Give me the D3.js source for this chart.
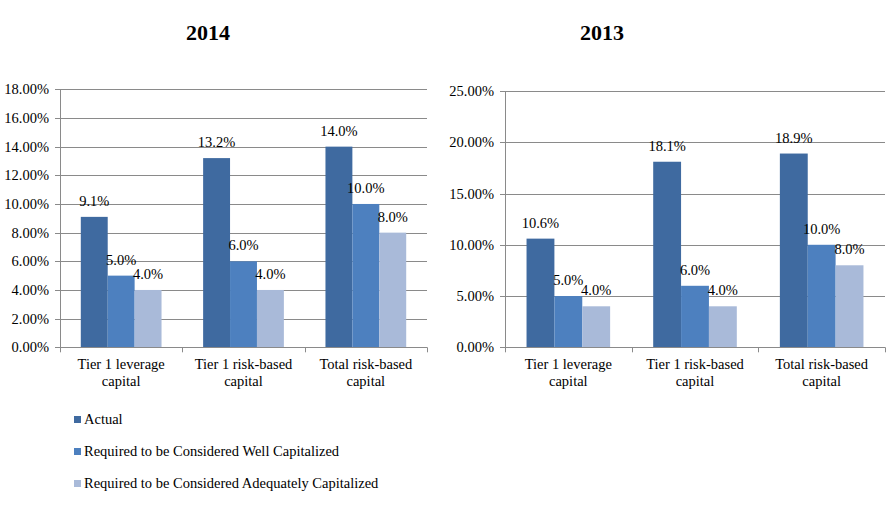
<!DOCTYPE html>
<html><head><meta charset="utf-8">
<script src="https://cdn.jsdelivr.net/npm/d3@7"></script>
<style>
html,body{margin:0;padding:0;background:#fff;}
svg text{font-family:'Liberation Serif','Times New Roman',Times,'DejaVu Serif',serif;}
</style></head>
<body>
<svg id="chart" width="886" height="521"></svg>
<script>
// ---- data ----
const categories = [["Tier 1 leverage","capital"],["Tier 1 risk-based","capital"],["Total risk-based","capital"]];
const seriesNames = ["Actual","Required to be Considered Well Capitalized","Required to be Considered Adequately Capitalized"];
const values2014 = [[9.1,5.0,4.0],[13.2,6.0,4.0],[14.0,10.0,8.0]];
const values2013 = [[10.6,5.0,4.0],[18.1,6.0,4.0],[18.9,10.0,8.0]];
const ticks2014 = [0,2,4,6,8,10,12,14,16,18];
const ticks2013 = [0,5,10,15,20,25];
const years = ["2014","2013"];
const colors = ["#3f6aa0","#4d80bf","#a9bad9"];

const svg = d3.select("#chart");
const gridColor = "#8a8a8a";
const fs = "14.5px";
const ff = "'Liberation Serif','Times New Roman',Times,serif";

function T(sel){ return sel.attr("font-family",ff).style("font-family",ff); }

function drawPanel(cfg){
  const g = svg.append("g");
  const y = d3.scaleLinear().domain([0, d3.max(cfg.ticks)]).range([cfg.bottom, cfg.top]);
  const x0 = d3.scaleBand().domain(d3.range(categories.length)).range([cfg.left, cfg.right]).padding(0);
  const bw = x0.bandwidth();
  const x1 = d3.scaleBand().domain(d3.range(seriesNames.length)).range([bw*0.17, bw*0.83]).padding(0);

  g.selectAll("line.grid").data(cfg.ticks.slice(1)).enter().append("line")
    .attr("x1", cfg.left).attr("x2", cfg.right)
    .attr("y1", d=>Math.round(y(d))+0.5).attr("y2", d=>Math.round(y(d))+0.5)
    .attr("stroke", gridColor).attr("stroke-width",1);
  g.selectAll("line.yt").data(cfg.ticks).enter().append("line")
    .attr("x1", cfg.left-5).attr("x2", cfg.left)
    .attr("y1", d=>Math.round(y(d))+0.5).attr("y2", d=>Math.round(y(d))+0.5)
    .attr("stroke", gridColor);
  T(g.selectAll("text.yl").data(cfg.ticks).enter().append("text")
    .attr("x", cfg.left-11).attr("y", d=>y(d)).attr("dy","0.35em")
    .attr("text-anchor","end").style("font-size",fs).attr("fill","#000")
    .text(d=>d.toFixed(2)+"%"));

  categories.forEach((c,ci)=>{
    const vals = cfg.values[ci];
    const gg = g.append("g").attr("transform",`translate(${x0(ci)},0)`);
    gg.selectAll("rect").data(vals).enter().append("rect")
      .attr("x",(d,i)=>x1(i)).attr("width",x1.bandwidth())
      .attr("y",d=>y(d)).attr("height",d=>y(0)-y(d))
      .attr("fill",(d,i)=>colors[i]);
    T(gg.selectAll("text").data(vals).enter().append("text")
      .attr("x",(d,i)=>x1(i)+x1.bandwidth()/2).attr("y",d=>y(d)-11)
      .attr("text-anchor","middle").style("font-size",fs).attr("fill","#000")
      .text(d=>d.toFixed(1)+"%"));
  });

  g.append("line").attr("x1",cfg.left+0.5).attr("x2",cfg.left+0.5)
    .attr("y1",cfg.top).attr("y2",cfg.bottom).attr("stroke",gridColor);
  g.append("line").attr("x1",cfg.left).attr("x2",cfg.right)
    .attr("y1",Math.round(y(0))+0.5).attr("y2",Math.round(y(0))+0.5).attr("stroke",gridColor);
  const bounds = d3.range(categories.length+1).map(i=>cfg.left+i*bw);
  g.selectAll("line.xt").data(bounds).enter().append("line")
    .attr("x1",d=>Math.round(d)+0.5).attr("x2",d=>Math.round(d)+0.5)
    .attr("y1",y(0)).attr("y2",y(0)+5).attr("stroke",gridColor);
  categories.forEach((c,ci)=>{
    const t = T(g.append("text").attr("text-anchor","middle").style("font-size",fs).attr("fill","#000"));
    c.forEach((line,li)=>{
      t.append("tspan").attr("x",x0(ci)+bw/2).attr("y",cfg.bottom+22+li*17).text(line);
    });
  });
  T(g.append("text").attr("x",cfg.titleX).attr("y",40).attr("text-anchor","middle")
    .style("font-size","22px").style("font-weight","bold").text(cfg.title));
}

drawPanel({left:60,right:427,top:89.3,bottom:347.3,ticks:ticks2014,values:values2014,title:years[0],titleX:208});
drawPanel({left:505,right:885,top:91,bottom:347.3,ticks:ticks2013,values:values2013,title:years[1],titleX:602});

const leg = svg.append("g");
seriesNames.forEach((s,i)=>{
  const yy = 424 + i*32;
  leg.append("rect").attr("x",74).attr("y",yy-8).attr("width",7).attr("height",7).attr("fill",colors[i]);
  T(leg.append("text").attr("x",84).attr("y",yy).style("font-size",fs).attr("fill","#000").text(s));
});
</script>
</body></html>
